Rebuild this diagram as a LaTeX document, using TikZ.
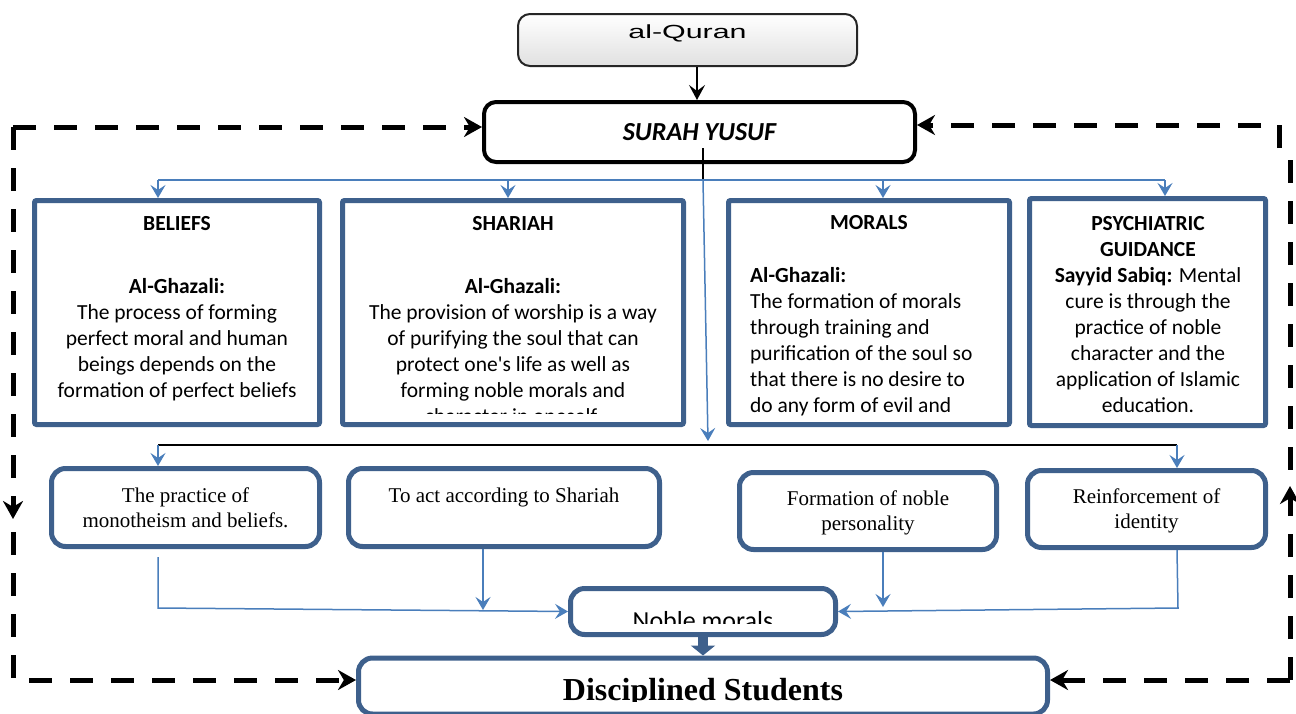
\documentclass[tikz,border=0pt]{standalone}
\usepackage{fontspec}
\setmainfont{Carlito}[Ligatures=TeXOff]
\newfontfamily\timesfont{Liberation Serif}
\newfontfamily\quranfont{Liberation Sans}[FakeStretch=1.6]
\usetikzlibrary{arrows.meta}

\definecolor{boxedge}{RGB}{62,96,140}
\definecolor{linkblue}{RGB}{74,126,187}

\newcommand{\bodysize}{\fontsize{21.5pt}{26pt}\selectfont}
\newcommand{\serifsize}{\timesfont\fontsize{21pt}{25pt}\selectfont}

\tikzset{
  topbox/.style={draw=boxedge, line width=5pt, rounded corners=2pt, inner sep=0pt, fill=white},
  lowbox/.style={draw=boxedge, line width=5pt, rounded corners=14pt, inner sep=0pt, fill=white,
                 font=\serifsize, align=center, text depth=0pt},
  headtext/.style={font=\bodysize\bfseries, align=center, inner sep=0pt},
  bodytext/.style={font=\bodysize, align=center, inner sep=0pt, anchor=north},
  wire/.style={draw=linkblue, line width=1.5pt},
  link/.style={wire, -{Stealth[length=13pt,width=15pt,inset=5pt]}},
  loopdash/.style={line width=5pt, dash pattern=on 23pt off 18pt},
  looptip/.style={-{Stealth[length=18pt,width=20pt]}},
}

\begin{document}
\begin{tikzpicture}[x=1pt,y=-1pt]
    \useasboundingbox (0,0) rectangle (1296,713);

    % al-Quran and Surah Yusuf
    \node[draw=black!85, line width=2pt, rounded corners=12pt, top color=white, bottom color=black!12,
          minimum width=339pt, minimum height=52pt] (quran) at (687.5,40) {};
    \node[font=\quranfont\fontsize{19pt}{22pt}\selectfont, inner sep=0pt] (qlabel) at (687.5,33) {al-Quran};
    \node[draw, line width=4pt, rounded corners=12pt, fill=white, minimum width=431pt, minimum height=60pt,
          font=\fontsize{26pt}{30pt}\selectfont\bfseries\itshape] (surah) at (699.5,132) {SURAH YUSUF};
    \draw[line width=2pt, -{Stealth[length=15pt,width=16pt,inset=6pt]}]
        (quran.south -| 697,0) -- (surah.north -| 697,0);

    % Four aspects
    \node[topbox, minimum width=285pt, minimum height=224pt] (beliefs) at (177,312.5) {};
    \node[topbox, minimum width=341pt, minimum height=224pt] (shariah) at (513,312.5) {};
    \node[topbox, minimum width=281pt, minimum height=224pt] (morals) at (869,312.5) {};
    \node[topbox, minimum width=236pt, minimum height=227pt] (psych) at (1147.5,312) {};

    \node[headtext] (beliefsttl) at (177,224) {BELIEFS};
    \node[bodytext] (beliefstxt) at (177,278) {\textbf{Al-Ghazali:}\\The process of forming\\perfect moral and human\\beings depends on the\\formation of perfect beliefs};

    \node[headtext] (shariahttl) at (513,224) {SHARIAH};
    \begin{scope}
        \clip (340,198) rectangle (686,413);
        \node[bodytext] (shariahtxt) at (513,278) {\textbf{Al-Ghazali:}\\The provision of worship is a way\\of purifying the soul that can\\protect one's life as well as\\forming noble morals and\\character in oneself.};
    \end{scope}

    \node[headtext] (moralsttl) at (869,223) {MORALS};
    \node[bodytext, anchor=north west, align=left] (moralstxt) at (750,267) {\textbf{Al-Ghazali:}\\The formation of morals\\through training and\\purification of the soul so\\that there is no desire to\\do any form of evil and};

    \node[bodytext] (psychtxt) at (1148,216) {\textbf{PSYCHIATRIC}\\\textbf{GUIDANCE}\\\textbf{Sayyid Sabiq:} Mental\\cure is through the\\practice of noble\\character and the\\application of Islamic\\education.};

    % Outcomes
    \node[lowbox, minimum width=268pt, minimum height=78pt] (practice) at (185.5,507.5) {The practice of\\monotheism and beliefs.};
    \node[lowbox, minimum width=311pt, minimum height=78pt] (act) at (504,507.5) {};
    \node[font=\serifsize, inner sep=0pt] (acttxt) at (504,497) {To act according to Shariah};
    \node[lowbox, minimum width=257pt, minimum height=77pt] (formation) at (868,511) {Formation of noble\\personality};
    \node[lowbox, minimum width=238pt, minimum height=77pt] (reinf) at (1146.5,509) {Reinforcement of\\identity};

    % Noble morals and students
    \node[lowbox, minimum width=265pt, minimum height=46pt] (noble) at (703,611.5) {};
    \begin{scope}
        \clip (568,586) rectangle (838,623);
        \node[font=\fontsize{26pt}{30pt}\selectfont, anchor=base, inner sep=0pt] (nobletxt) at (703,629) {Noble morals};
    \end{scope}
    \node[lowbox, minimum width=689pt, minimum height=56pt] (disc) at (703,686) {};
    \begin{scope}
        \clip (356,656) rectangle (1050,701);
        \node[font=\timesfont\bfseries\fontsize{32pt}{36pt}\selectfont, anchor=base, inner sep=0pt] (disctxt) at (703,700) {Disciplined Students};
    \end{scope}

    % Branches from the surah
    \coordinate (stem) at (703,148);
    \coordinate (fork) at (703,180);
    \coordinate (hub) at (708,441);
    \draw[line width=1.5pt] (stem) -- (fork);
    \draw[wire] (158,180) -- (1165,180);
    \foreach \px/\nm in {158/beliefs,508/shariah,883/morals,1165/psych}
        \draw[link] (\px,180) -- (\px,180 |- \nm.north);
    \draw[link] (fork) -- (hub);

    % Branches to the outcomes
    \draw[line width=2pt] (158,445) -- (1177,445);
    \foreach \px/\nm in {158/practice,1177/reinf}
        \draw[link] (\px,445) -- (\px,445 |- \nm.north);

    % Into noble morals
    \draw[link] ([shift={(-27.5pt,-8pt)}]practice.south) -- ++(0,51) -- (noble.west);
    \draw[link] ([xshift=-21pt]act.south) -- ++(0,61);
    \draw[link] ([xshift=15pt]formation.south) -- ++(0,55);
    \draw[link] ([xshift=30.5pt]reinf.south) -- ++(1,58) -- (noble.east);
    \draw[boxedge, line width=10pt, -{Triangle[length=10pt,width=24pt]}] (noble.south) -- (disc.north);

    % Feedback loops
    \coordinate (tl) at (13,127);
    \coordinate (tr) at (1279,125);
    \coordinate (bl) at (13,680);
    \coordinate (br) at (1290,680);
    \draw[loopdash, looptip] (tl) -- (tl -| surah.west);
    \draw[loopdash, looptip] (tl) -- (13,519);
    \draw[loopdash, looptip] (13,532) -- (bl) -- (bl -| disc.west);
    \draw[loopdash, looptip] (1279,148) -- (tr) -- (tr -| surah.east);
    \draw[loopdash] (1290,160) -- (1290,476);
    \draw[loopdash, looptip] (br) -- (1290,486);
    \draw[loopdash, looptip] (br) -- (br -| disc.east);
\end{tikzpicture}
\end{document}
